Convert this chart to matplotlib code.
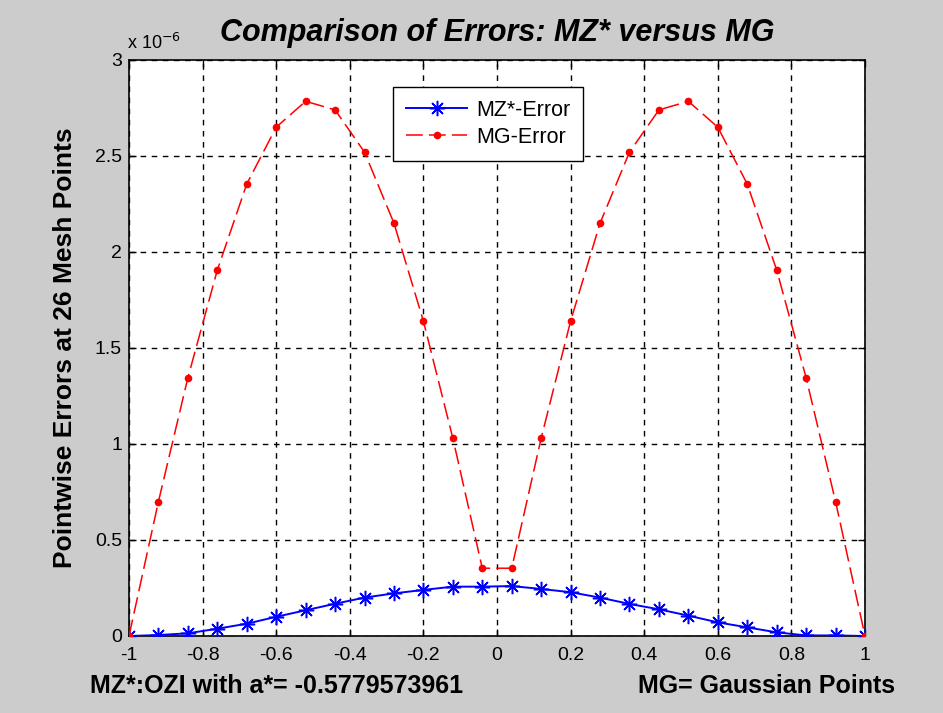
import numpy as np
import matplotlib
matplotlib.use("Agg")
import matplotlib.pyplot as plt

x = [-1.0, -0.92, -0.84, -0.76, -0.68, -0.60, -0.52, -0.44, -0.36, -0.28, -0.20, -0.12, -0.04,
     0.04, 0.12, 0.20, 0.28, 0.36, 0.44, 0.52, 0.60, 0.68, 0.76, 0.84, 0.92, 1.0]
mg_err = [0.0, 0.70, 1.345, 1.906, 2.354, 2.65, 2.785, 2.74, 2.52, 2.15, 1.64, 1.03, 0.353,
          0.353, 1.03, 1.64, 2.15, 2.52, 2.74, 2.785, 2.65, 2.354, 1.906, 1.345, 0.70, 0.0]
mz_err = [0.0, 0.005, 0.014, 0.038, 0.064, 0.10, 0.134, 0.168, 0.20, 0.222, 0.24, 0.257, 0.257,
          0.26, 0.245, 0.228, 0.20, 0.167, 0.139, 0.106, 0.071, 0.045, 0.019, 0.003, 0.003, 0.0]
scale = 1e-6
xticks = [-1, -0.8, -0.6, -0.4, -0.2, 0, 0.2, 0.4, 0.6, 0.8, 1]
xticklabels = ["-1", "-0.8", "-0.6", "-0.4", "-0.2", "0", "0.2", "0.4", "0.6", "0.8", "1"]
yticks = [0, 0.5, 1, 1.5, 2, 2.5, 3]
yticklabels = ["0", "0.5", "1", "1.5", "2", "2.5", "3"]

plt.rcParams['font.family'] = ['Liberation Sans', 'DejaVu Sans']

W, H = 943, 713
fig = plt.figure(figsize=(W/100, H/100), dpi=100, facecolor='#cccccc')
ax = fig.add_axes([129/W, 1-636/H, (865-129)/W, (636-60)/H])
ax.set_facecolor('white')

xs = np.array(x)
ax.plot(xs, np.array(mz_err)*scale, '-', color='blue', marker=(8, 2, 0), markersize=11,
        markeredgewidth=1.1, lw=1.4, label='MZ*-Error', zorder=3)
ax.plot(xs, np.array(mg_err)*scale, '--', color='red', marker='.', markersize=9, lw=1.1,
        dashes=(11, 4), label='MG-Error', zorder=4)

ax.set_xlim(-1, 1)
ax.set_ylim(0, 3e-6)
ax.set_xticks(xticks)
ax.set_xticklabels(xticklabels)
ax.set_yticks([v*scale for v in yticks])
ax.set_yticklabels(yticklabels)
ax.tick_params(direction='in', top=True, right=True, labelsize=14, length=5, width=1)
ax.tick_params(axis='x', pad=8)
ax.tick_params(axis='y', pad=5)
ax.grid(True, color='black', linestyle=(0, (4, 4)), lw=1)
for s in ax.spines.values():
    s.set_linewidth(1.2)

fig.text(497/W, 1-33/H, 'Comparison of Errors: MZ* versus MG', fontsize=22, fontweight='bold',
         fontstyle='italic', ha='center', va='center')
fig.text(65/W, 1-348/H, 'Pointwise Errors at 26 Mesh Points', fontsize=19, fontweight='bold',
         rotation=90, ha='center', va='center')
ax.text(-0.003, 1.012, r'x 10$^{-6}$', transform=ax.transAxes, fontsize=13, ha='left', va='bottom')

fig.text(90/W, 1-686/H, 'MZ*:OZI with a*= -0.5779573961', fontsize=18, fontweight='bold', ha='left', va='center')
fig.text(895/W, 1-686/H, 'MG= Gaussian Points', fontsize=18, fontweight='bold', ha='right', va='center')

leg = ax.legend(loc='upper left', bbox_to_anchor=((393-129)/736, 1-(87-60)/576), fontsize=15.5,
                fancybox=False, edgecolor='black', framealpha=1, borderpad=0.6, borderaxespad=0,
                handlelength=2.85, handletextpad=0.42, labelspacing=0.28)
leg.get_frame().set_linewidth(1)

fig.savefig('out.png', dpi=100, facecolor=fig.get_facecolor())
